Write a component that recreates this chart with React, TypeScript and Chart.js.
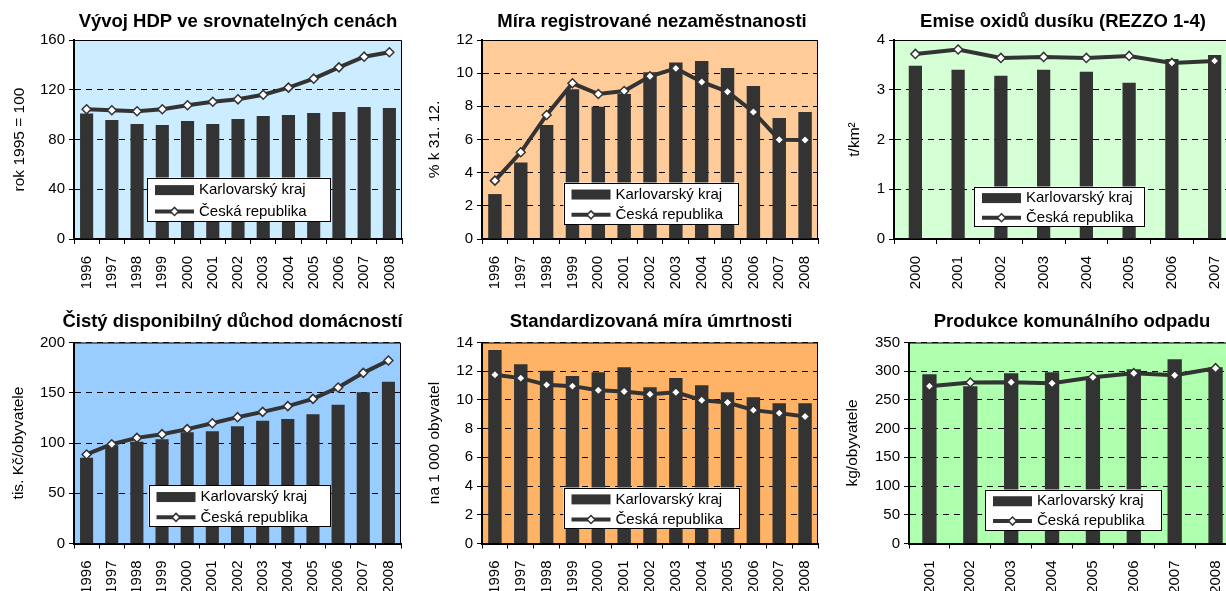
import React, { useEffect, useRef } from 'react';
import { Chart, registerables } from 'chart.js';

Chart.register(...registerables);

// ---------- DATA ----------
const years9608 = ['1996', '1997', '1998', '1999', '2000', '2001', '2002', '2003', '2004', '2005', '2006', '2007', '2008'];
const years0007 = ['2000', '2001', '2002', '2003', '2004', '2005', '2006', '2007'];
const years0108 = ['2001', '2002', '2003', '2004', '2005', '2006', '2007', '2008'];

const legendLabels = ['Karlovarský kraj', 'Česká republika'];

const hdpKraj = [101.0, 95.7, 92.5, 91.7, 94.9, 92.5, 96.5, 98.9, 99.7, 101.3, 102.1, 106.1, 105.3];
const hdpCR = [104.3, 103.5, 102.7, 104.3, 107.5, 110.4, 112.3, 116.0, 121.7, 128.9, 138.0, 146.6, 150.1];

const nezKraj = [2.71, 4.62, 6.87, 9.03, 7.98, 8.74, 10.05, 10.65, 10.73, 10.31, 9.23, 7.30, 7.66];
const nezCR = [3.52, 5.23, 7.48, 9.39, 8.74, 8.92, 9.81, 10.29, 9.47, 8.88, 7.66, 5.99, 5.97];

const noxKraj = [3.48, 3.40, 3.28, 3.40, 3.36, 3.14, 3.62, 3.70];
const noxCR = [3.72, 3.81, 3.64, 3.66, 3.64, 3.68, 3.54, 3.58];

const duchKraj = [85.2, 97.8, 101.2, 103.8, 110.8, 111.8, 116.7, 122.1, 124.0, 128.7, 138.0, 150.6, 160.9];
const duchCR = [88.6, 98.8, 105.1, 108.8, 113.8, 119.7, 125.7, 131.0, 136.7, 143.9, 155.2, 169.8, 182.1];

const umrKraj = [13.47, 12.49, 12.03, 11.66, 11.93, 12.28, 10.89, 11.52, 11.03, 10.54, 10.19, 9.77, 9.77];
const umrCR = [11.75, 11.52, 11.05, 10.96, 10.68, 10.59, 10.40, 10.54, 9.98, 9.82, 9.29, 9.08, 8.85];

const odpKraj = [294.8, 274.0, 296.6, 298.3, 289.6, 303.5, 321.0, 307.0];
const odpCR = [274.0, 280.3, 280.9, 279.2, 289.6, 296.6, 293.0, 305.3];

// ---------- PANELS ----------
type Box = { x: number; y: number; w: number; h: number };
type PanelCfg = {
  title: string;
  yTitle: string;
  labels: string[];
  kraj: number[];
  cr: number[];
  yMax: number;
  yStep: number;
  bg: string;
  canvas: Box;
  area: { l: number; t: number; r: number; b: number };
  titleX: number;
  titleY: number;
  yTitleX: number;
  legend: Box;
  barPct: number;
};

const panels: PanelCfg[] = [
  {
    title: 'Vývoj HDP ve srovnatelných cenách', yTitle: 'rok 1995 = 100',
    labels: years9608, kraj: hdpKraj, cr: hdpCR, yMax: 160, yStep: 40, bg: '#CCECFF',
    canvas: { x: 0, y: 0, w: 410, h: 295 }, area: { l: 74, t: 40, r: 402, b: 239 },
    titleX: 238, titleY: 27, yTitleX: 20, legend: { x: 147, y: 177.5, w: 184, h: 43.5 }, barPct: 0.52,
  },
  {
    title: 'Míra registrované nezaměstnanosti', yTitle: '% k 31. 12.',
    labels: years9608, kraj: nezKraj, cr: nezCR, yMax: 12, yStep: 2, bg: '#FFCC99',
    canvas: { x: 410, y: 0, w: 410, h: 295 }, area: { l: 482, t: 40, r: 818, b: 239 },
    titleX: 652, titleY: 27, yTitleX: 435, legend: { x: 563.5, y: 182.5, w: 175, h: 41.5 }, barPct: 0.52,
  },
  {
    title: 'Emise oxidů dusíku (REZZO 1-4)', yTitle: 't/km²',
    labels: years0007, kraj: noxKraj, cr: noxCR, yMax: 4, yStep: 1, bg: '#D5FFD5',
    canvas: { x: 820, y: 0, w: 420, h: 295 }, area: { l: 894, t: 40, r: 1236, b: 239 },
    titleX: 1063, titleY: 27, yTitleX: 855, legend: { x: 974, y: 186.5, w: 171, h: 40 }, barPct: 0.31,
  },
  {
    title: 'Čistý disponibilný důchod domácností', yTitle: 'tis. Kč/obyvatele',
    labels: years9608, kraj: duchKraj, cr: duchCR, yMax: 200, yStep: 50, bg: '#99CCFF',
    canvas: { x: 0, y: 295, w: 410, h: 296 }, area: { l: 74, t: 342.5, r: 401, b: 543.5 },
    titleX: 232.5, titleY: 327, yTitleX: 18.5, legend: { x: 148.5, y: 485, w: 181.5, h: 41.5 }, barPct: 0.52,
  },
  {
    title: 'Standardizovaná míra úmrtnosti', yTitle: 'na 1 000 obyvatel',
    labels: years9608, kraj: umrKraj, cr: umrCR, yMax: 14, yStep: 2, bg: '#FFB366',
    canvas: { x: 410, y: 295, w: 410, h: 296 }, area: { l: 482, t: 342.5, r: 818, b: 543.5 },
    titleX: 651, titleY: 327, yTitleX: 435, legend: { x: 563.5, y: 487.5, w: 176, h: 41 }, barPct: 0.52,
  },
  {
    title: 'Produkce komunálního odpadu', yTitle: 'kg/obyvatele',
    labels: years0108, kraj: odpKraj, cr: odpCR, yMax: 350, yStep: 50, bg: '#AEFFAE',
    canvas: { x: 820, y: 295, w: 420, h: 296 }, area: { l: 909, t: 342.5, r: 1236, b: 543.5 },
    titleX: 1072, titleY: 327, yTitleX: 853, legend: { x: 985, y: 489.5, w: 176.5, h: 40.5 }, barPct: 0.35,
  },
];

const FONT = '"Liberation Sans", Arial, sans-serif';
const DARK = '#333333';

function drawDiamond(ctx: CanvasRenderingContext2D, x: number, y: number, r: number) {
  ctx.beginPath();
  ctx.moveTo(x - r, y);
  ctx.lineTo(x, y - r);
  ctx.lineTo(x + r, y);
  ctx.lineTo(x, y + r);
  ctx.closePath();
  ctx.fillStyle = '#fff';
  ctx.fill();
  ctx.lineWidth = 1.5;
  ctx.strokeStyle = DARK;
  ctx.stroke();
}

function makeDecor(cfg: PanelCfg) {
  const cx = cfg.canvas.x;
  const cy = cfg.canvas.y;
  return {
    id: 'decor',
    beforeDraw(chart: any) {
      const { ctx, chartArea: a } = chart;
      ctx.save();
      ctx.fillStyle = cfg.bg;
      ctx.fillRect(a.left, a.top, a.right - a.left, a.bottom - a.top);
      ctx.restore();
    },
    afterDraw(chart: any) {
      const { ctx, chartArea: a } = chart;
      ctx.save();
      // frame top & right
      ctx.strokeStyle = '#000';
      ctx.lineWidth = 1;
      ctx.beginPath();
      ctx.moveTo(a.left, a.top + 0.5);
      ctx.lineTo(a.right - 0.5, a.top + 0.5);
      ctx.lineTo(a.right - 0.5, a.bottom);
      ctx.stroke();
      // title
      ctx.fillStyle = '#000';
      ctx.font = `bold 18.5px ${FONT}`;
      ctx.textAlign = 'center';
      ctx.textBaseline = 'alphabetic';
      ctx.fillText(cfg.title, cfg.titleX - cx, cfg.titleY - cy);
      // legend
      const L = { x: cfg.legend.x - cx, y: cfg.legend.y - cy, w: cfg.legend.w, h: cfg.legend.h };
      ctx.fillStyle = '#fff';
      ctx.fillRect(L.x, L.y, L.w, L.h);
      ctx.strokeStyle = '#000';
      ctx.lineWidth = 1;
      ctx.strokeRect(Math.round(L.x) + 0.5, Math.round(L.y) + 0.5, Math.round(L.w) - 1, Math.round(L.h) - 1);
      const sx1 = L.x + 8;
      const sx2 = L.x + 47;
      const r1 = L.y + L.h * 0.29;
      const r2 = L.y + L.h * 0.78;
      ctx.fillStyle = DARK;
      ctx.fillRect(sx1, r1 - 5, sx2 - sx1, 10);
      ctx.beginPath();
      ctx.moveTo(sx1, r2);
      ctx.lineTo(sx2, r2);
      ctx.lineWidth = 4;
      ctx.strokeStyle = DARK;
      ctx.stroke();
      drawDiamond(ctx, (sx1 + sx2) / 2, r2, 4);
      ctx.fillStyle = '#000';
      ctx.font = `15px ${FONT}`;
      ctx.textAlign = 'left';
      ctx.textBaseline = 'middle';
      ctx.fillText(legendLabels[0], L.x + 52, r1);
      ctx.fillText(legendLabels[1], L.x + 52, r2);
      ctx.restore();
    },
  };
}

function buildConfig(cfg: PanelCfg): any {
  const cx = cfg.canvas.x;
  const cy = cfg.canvas.y;
  const a = { l: cfg.area.l - cx, t: cfg.area.t - cy, r: cfg.area.r - cx, b: cfg.area.b - cy };
  return {
    type: 'bar',
    data: {
      labels: cfg.labels,
      datasets: [
        {
          type: 'line',
          label: legendLabels[1],
          data: cfg.cr,
          order: 1,
          borderColor: DARK,
          borderWidth: 4,
          tension: 0,
          pointStyle: 'rectRot',
          pointRadius: 4.5,
          pointBackgroundColor: '#fff',
          pointBorderColor: DARK,
          pointBorderWidth: 1.5,
        },
        {
          type: 'bar',
          label: legendLabels[0],
          data: cfg.kraj,
          order: 2,
          backgroundColor: DARK,
          borderWidth: 0,
          categoryPercentage: 1,
          barPercentage: cfg.barPct,
        },
      ],
    },
    options: {
      responsive: false,
      animation: false,
      devicePixelRatio: 1,
      layout: {
        autoPadding: false,
        padding: { left: 0, top: a.t, right: cfg.canvas.w - a.r, bottom: 0 },
      },
      plugins: {
        legend: { display: false },
        title: { display: false },
        tooltip: { enabled: false },
      },
      scales: {
        x: {
          type: 'category',
          offset: true,
          grid: {
            display: true,
            offset: true,
            drawOnChartArea: false,
            drawTicks: true,
            tickLength: 5,
            color: '#000',
            tickColor: '#000',
            lineWidth: 1,
          },
          border: { display: true, width: 2, color: '#000' },
          ticks: {
            autoSkip: false,
            minRotation: 90,
            maxRotation: 90,
            padding: 12,
            color: '#000',
            font: { family: FONT, size: 15 },
          },
          afterFit: (s: any) => {
            s.height = cfg.canvas.h - a.b;
            s.paddingLeft = 0;
            s.paddingRight = 0;
          },
        },
        y: {
          min: 0,
          max: cfg.yMax,
          ticks: {
            stepSize: cfg.yStep,
            padding: 4,
            color: '#000',
            font: { family: FONT, size: 15 },
          },
          grid: {
            color: '#000',
            lineWidth: 1,
            drawTicks: true,
            tickLength: 5,
            tickColor: '#000',
            tickBorderDash: [],
          },
          border: { display: true, width: 2, color: '#000', dash: [6, 5] },
          title: {
            display: true,
            text: cfg.yTitle,
            color: '#000',
            font: { family: FONT, size: 15.5 },
            padding: { top: cfg.yTitleX - cx - 9.3, bottom: 0 },
          },
          afterFit: (s: any) => {
            s.width = a.l;
            s.paddingTop = 0;
            s.paddingBottom = 0;
          },
        },
      },
    },
    plugins: [makeDecor(cfg)],
  };
}

function Panel({ cfg }: { cfg: PanelCfg }) {
  const ref = useRef<HTMLCanvasElement>(null);
  useEffect(() => {
    const chart = new Chart(ref.current as HTMLCanvasElement, buildConfig(cfg));
    return () => chart.destroy();
  }, [cfg]);
  return (
    <canvas
      ref={ref}
      width={cfg.canvas.w}
      height={cfg.canvas.h}
      style={{
        position: 'absolute',
        left: cfg.canvas.x,
        top: cfg.canvas.y,
        width: cfg.canvas.w,
        height: cfg.canvas.h,
        display: 'block',
      }}
    />
  );
}

export default function App() {
  return (
    <div
      style={{
        position: 'fixed',
        left: 0,
        top: 0,
        width: 1226,
        height: 591,
        overflow: 'hidden',
        background: '#fff',
      }}
    >
      {panels.map((p, i) => (
        <Panel key={i} cfg={p} />
      ))}
    </div>
  );
}
